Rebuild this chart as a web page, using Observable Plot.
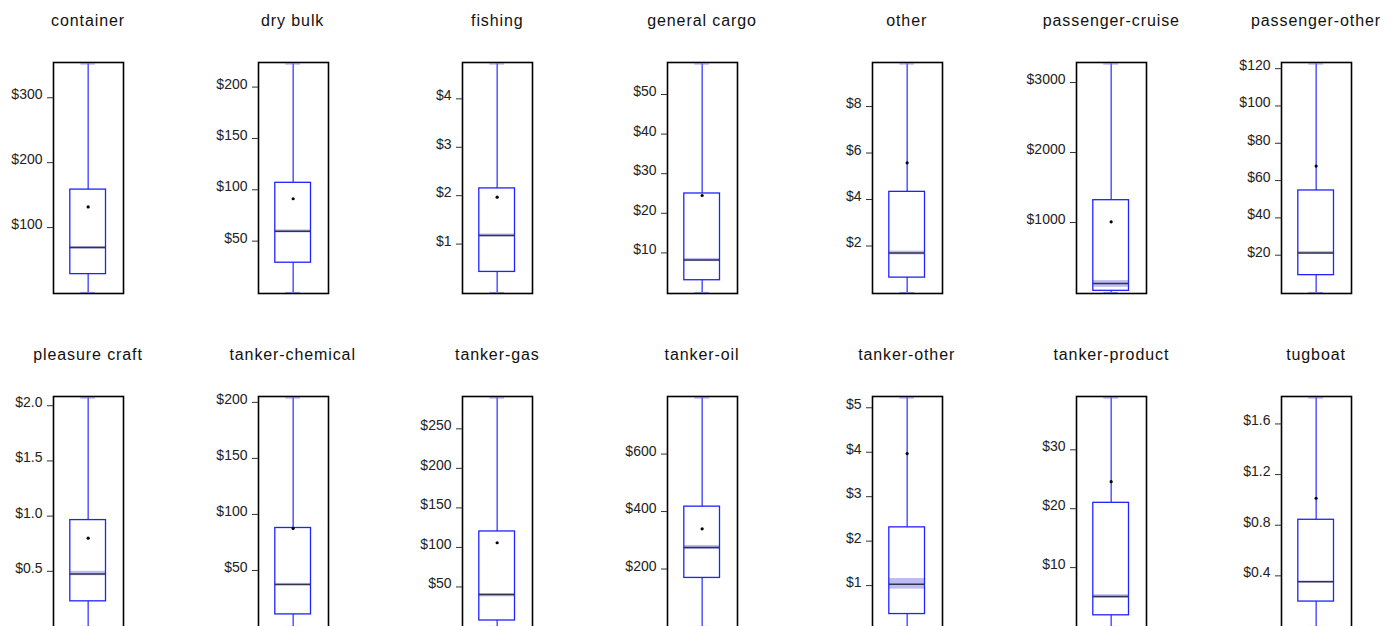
<!DOCTYPE html>
<html><head><meta charset="utf-8">
<script src="https://cdn.jsdelivr.net/npm/d3@7"></script>
<script src="https://cdn.jsdelivr.net/npm/@observablehq/plot@0.6"></script>
<style>
html,body{margin:0;padding:0;background:#fff;overflow:hidden;width:1397px;height:626px}
#root{position:relative;width:1440px;height:668px}
.panel{position:absolute;width:205px;height:334px}
.panel svg{position:absolute;left:0;top:0;overflow:visible}
.title{position:absolute;top:13px;left:88px;transform:translateX(-50%);font:16px/1 "Liberation Sans",Arial,sans-serif;letter-spacing:0.9px;white-space:nowrap;color:#111}
</style></head><body><div id="root"></div>
<script>
const categories = ["container","dry bulk","fishing","general cargo","other","passenger-cruise","passenger-other",
  "pleasure craft","tanker-chemical","tanker-gas","tanker-oil","tanker-other","tanker-product","tugboat"];
const whiskerLow  = [0, 0, 0, 0, 0, 0, 0, 0, 0, 0, 0, 0.08, 0, 0];
const q1          = [28.3, 29, 0.425, 3.1, 0.64, 24, 9.3, 0.228, 10.8, 7.6, 169, 0.36, 1.9, 0.197];
const median      = [69.2, 59.7, 1.18, 8.2, 1.7, 127, 21.2, 0.476, 37.5, 40.4, 275, 1.03, 5.1, 0.353];
const q3          = [158.5, 106.8, 2.15, 25.0, 4.33, 1319, 54.7, 0.964, 87.9, 120.2, 417, 2.31, 21, 0.843];
const whiskerHigh = [352, 222.5, 4.72, 57.7, 9.83, 3265, 122.5, 2.07, 203.9, 289, 795, 5.22, 38.8, 1.805];
const mean        = [131.8, 91.3, 1.97, 24.5, 5.58, 1010, 67.8, 0.80, 87.5, 105.9, 340, 3.97, 24.6, 1.013];
const medianCiLow = [67, 58, 1.15, 7.8, 1.62, 74, 20.5, 0.46, 36.5, 37.5, 268, 0.92, 4.8, 0.345];
const medianCiHigh= [71, 61, 1.21, 8.6, 1.78, 170, 22, 0.50, 38.5, 41.5, 282, 1.16, 5.4, 0.36];
const tickValues = [
  [100,200,300],[50,100,150,200],[1,2,3,4],[10,20,30,40,50],[2,4,6,8],[1000,2000,3000],[20,40,60,80,100,120],
  [0.5,1.0,1.5,2.0],[50,100,150,200],[50,100,150,200,250],[200,400,600],[1,2,3,4,5],[10,20,30],[0.4,0.8,1.2,1.6]
];
const tickLabels = [
  ["$100","$200","$300"],["$50","$100","$150","$200"],["$1","$2","$3","$4"],["$10","$20","$30","$40","$50"],
  ["$2","$4","$6","$8"],["$1000","$2000","$3000"],["$20","$40","$60","$80","$100","$120"],
  ["$0.5","$1.0","$1.5","$2.0"],["$50","$100","$150","$200"],["$50","$100","$150","$200","$250"],
  ["$200","$400","$600"],["$1","$2","$3","$4","$5"],["$10","$20","$30"],["$0.4","$0.8","$1.2","$1.6"]
];

const root = document.getElementById("root");
const colStep = 204.67, rowStep = 334;
categories.forEach((cat, i) => {
  const row = Math.floor(i / 7), col = i % 7;
  const d = {lo: whiskerLow[i], q1: q1[i], med: median[i], q3: q3[i], hi: whiskerHigh[i], mean: mean[i], ciLo: medianCiLow[i], ciHi: medianCiHigh[i]};
  const ticks = tickValues[i], labels = tickLabels[i];
  const fmt = v => labels[ticks.indexOf(v)];
  const bx1 = 0.24, bx2 = 0.75, cx = 0.495;
  const svg = Plot.plot({
    width: 205, height: 334,
    marginLeft: 53, marginRight: 82, marginTop: 62, marginBottom: 41,
    style: {fontFamily: "'Liberation Sans', Arial, sans-serif", fontSize: "14px", background: "transparent"},
    x: {domain: [0, 1], axis: null},
    y: {domain: [d.lo, d.hi], insetTop: 1.5, insetBottom: 1},
    marks: [
      Plot.ruleX([d], {x: cx, y1: "q3", y2: "hi", stroke: "#2a2aff", strokeWidth: 1.2}),
      Plot.ruleX([d], {x: cx, y1: "lo", y2: "q1", stroke: "#2a2aff", strokeWidth: 1.2}),
      Plot.ruleY([d], {y: "hi", x1: 0.39, x2: 0.6, stroke: "#7070ff", strokeOpacity: 0.6, strokeWidth: 1.2}),
      Plot.ruleY([d], {y: "lo", x1: 0.39, x2: 0.6, stroke: "#7070ff", strokeOpacity: 0.6, strokeWidth: 1.2}),
      Plot.rect([d], {x1: bx1, x2: bx2, y1: "ciLo", y2: "ciHi", fill: "#bdbdf3"}),
      Plot.rect([d], {x1: bx1, x2: bx2, y1: "q1", y2: "q3", fill: "none", stroke: "#2222ff", strokeWidth: 1.3}),
      Plot.ruleY([d], {y: "med", x1: bx1, x2: bx2, stroke: "#33334d", strokeWidth: 1.5}),
      Plot.dot([d], {x: cx, y: "mean", r: 1.6, fill: "#000", stroke: "none"}),
      Plot.frame({stroke: "#000", strokeWidth: 1.6}),
      Plot.axisY({ticks, tickSize: 6, fill: "none", stroke: "#333", label: null}),
      Plot.axisY({ticks, tickSize: 0, tickPadding: 11, tickFormat: fmt, dy: -3, fill: "#222", label: null})
    ]
  });
  const panel = document.createElement("div");
  panel.className = "panel";
  panel.style.left = (col * colStep) + "px";
  panel.style.top = (row * rowStep) + "px";
  const title = document.createElement("div");
  title.className = "title";
  title.textContent = cat;
  panel.appendChild(title);
  panel.appendChild(svg);
  root.appendChild(panel);
});
</script></body></html>
